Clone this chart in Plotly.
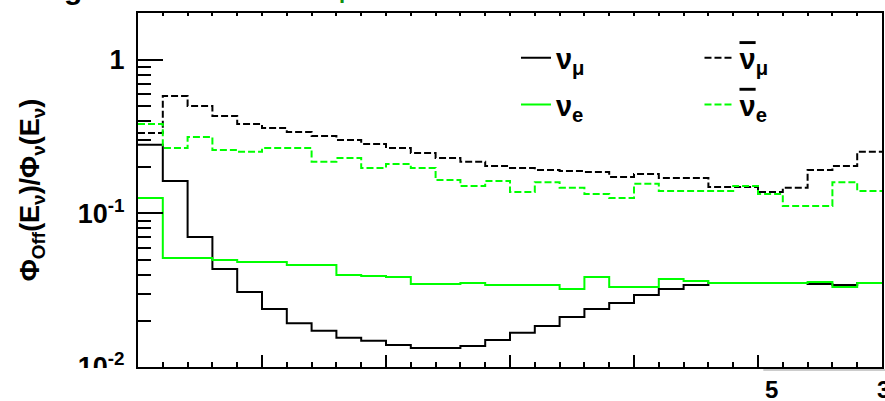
import numpy as np
import plotly.graph_objects as go

# Energy binning: 30 bins of 0.2 GeV between 0 and 6 GeV
bin_width = 0.2
low_edges = [round(i * bin_width, 1) for i in range(30)]

# Off-axis / on-axis flux ratio per bin
ratio_numu = [0.280, 0.163, 0.0703, 0.0435, 0.0308, 0.0239, 0.0193, 0.0172, 0.0155, 0.0148,
              0.0139, 0.0133, 0.0133, 0.0137, 0.0150, 0.0167, 0.0185, 0.0212, 0.0239, 0.0261,
              0.0294, 0.0322, 0.0342, 0.0353, 0.0353, 0.0353, 0.0353, 0.0347, 0.0342, 0.0353]
ratio_nue = [0.126, 0.0513, 0.0513, 0.0498, 0.0483, 0.0483, 0.0462, 0.0462, 0.0398, 0.0392,
             0.0386, 0.0347, 0.0347, 0.0353, 0.0342, 0.0342, 0.0342, 0.0322, 0.0386, 0.0332,
             0.0332, 0.0375, 0.0363, 0.0353, 0.0353, 0.0353, 0.0353, 0.0358, 0.0332, 0.0353]
ratio_numubar = [0.335, 0.583, 0.502, 0.432, 0.383, 0.361, 0.340, 0.320, 0.301, 0.284,
                 0.267, 0.248, 0.230, 0.217, 0.204, 0.198, 0.192, 0.189, 0.186, 0.173,
                 0.181, 0.170, 0.170, 0.149, 0.149, 0.138, 0.147, 0.192, 0.204, 0.252]
ratio_nuebar = [0.383, 0.267, 0.315, 0.259, 0.252, 0.267, 0.267, 0.217, 0.230, 0.198,
                0.210, 0.198, 0.165, 0.151, 0.163, 0.138, 0.160, 0.147, 0.134, 0.126,
                0.156, 0.140, 0.140, 0.140, 0.151, 0.134, 0.112, 0.112, 0.160, 0.140]

y_tick_vals = [0.01, 0.1, 1]
y_tick_text = ["10<sup>-2</sup>", "10<sup>-1</sup>", "1"]
y_minor_vals = [m * 10.0 ** d for d in (-2, -1) for m in range(2, 10)] + [2.0]

GREEN = "#00ff00"
FONT = "Liberation Sans, Arial, Helvetica, sans-serif"
NUBAR = "<span style='text-decoration:overline'>ν</span>"

series = [
    ("ν<sub>μ</sub>", ratio_numu, "black", "solid", "legend", "g1"),
    (NUBAR + "<sub>μ</sub>", ratio_numubar, "black", "7px,3px", "legend2", "g2"),
    ("ν<sub>e</sub>", ratio_nue, GREEN, "solid", "legend", "g3"),
    (NUBAR + "<sub>e</sub>", ratio_nuebar, GREEN, "7px,3px", "legend2", "g4"),
]

fig = go.Figure()
edges_all = low_edges + [round(low_edges[-1] + bin_width, 1)]
for name, vals, color, dash, leg, grp in series:
    fig.add_trace(go.Scatter(
        x=edges_all, y=list(vals) + [vals[-1]],
        mode="lines", line=dict(color=color, width=2, dash=dash, shape="hv"),
        name=name, legend=leg, legendgroup=grp, hoverinfo="skip",
    ))

# empty trace to carry the top tick axis
fig.add_trace(go.Scatter(x=[], y=[], xaxis="x2", showlegend=False, hoverinfo="skip"))

legend_font = dict(size=29, family=FONT, weight="bold")

fig.update_layout(
    width=885, height=401,
    margin=dict(l=138, r=1, t=13, b=34),
    paper_bgcolor="white", plot_bgcolor="white",
    font=dict(family=FONT, color="black"),
    xaxis=dict(
        range=[0, 6], showgrid=False, zeroline=False,
        showline=True, mirror=True, linecolor="black", linewidth=2,
        ticks="inside", dtick=1, tick0=0, ticklen=12, tickwidth=1.5, tickcolor="black",
        minor=dict(dtick=0.2, tick0=0, ticks="inside", ticklen=5, tickwidth=1.5, tickcolor="black"),
        showticklabels=False,
    ),
    xaxis2=dict(
        range=[0, 6], overlaying="x", side="top", showgrid=False, zeroline=False,
        showline=False, ticks="inside", dtick=0.2, tick0=0, ticklen=3, tickwidth=1.5,
        tickcolor="black", showticklabels=False,
    ),
    yaxis=dict(
        type="log", range=[-2, 0.306], showgrid=False, zeroline=False,
        showline=True, mirror=True, linecolor="black", linewidth=2,
        ticks="inside", tickvals=y_tick_vals, ticktext=y_tick_text,
        ticklen=25, tickwidth=1.5, tickcolor="black",
        minor=dict(tickvals=y_minor_vals, ticks="inside", ticklen=13, tickwidth=1.5, tickcolor="black"),
        tickfont=dict(size=27, family=FONT, weight="bold"),
        ticklabelstandoff=6,
        title=dict(text="Φ<sub>Off</sub>(E<sub>ν</sub>)/Φ<sub>ν</sub>(E<sub>ν</sub>)",
                   font=dict(size=27, family=FONT, weight="bold"), standoff=30),
    ),
    legend=dict(x=(517 - 138) / 746, y=0.945, xanchor="left", yanchor="top",
                bgcolor="rgba(0,0,0,0)", font=legend_font, tracegroupgap=6, itemwidth=30),
    legend2=dict(x=(701 - 138) / 746, y=0.945, xanchor="left", yanchor="top",
                 bgcolor="rgba(0,0,0,0)", font=legend_font, tracegroupgap=6, itemwidth=30),
    showlegend=True,
)

# strip below the frame that hides the lower labels, with its grey edge
fig.add_shape(type="rect", xref="paper", yref="paper", x0=-0.2, x1=-0.004,
              y0=-0.12, y1=-0.003, fillcolor="white", line=dict(width=0), layer="above")
fig.add_shape(type="line", xref="paper", yref="paper", x0=(765 - 138) / 746, x1=1.01,
              y0=-3 / 354, y1=-3 / 354, line=dict(color="#cccccc", width=2), layer="above")

fig.add_annotation(text="<b>5</b>", xref="paper", yref="paper", x=(773 - 138) / 746,
                   y=-23 / 354, showarrow=False, font=dict(size=24, family=FONT),
                   xanchor="center", yanchor="middle")
fig.add_annotation(text="<b>3</b>", xref="paper", yref="paper", x=(877 - 138) / 746,
                   y=-23 / 354, showarrow=False, font=dict(size=24, family=FONT),
                   xanchor="left", yanchor="middle")

# descenders of the heading line above the frame
fig.add_annotation(text="<b>g</b>", xref="paper", yref="paper", x=(73 - 138) / 746,
                   y=1 + 6 / 354, showarrow=False, font=dict(size=30, family=FONT),
                   xanchor="center", yanchor="bottom")
fig.add_annotation(text="<b>p</b>", xref="paper", yref="paper", x=(346 - 138) / 746,
                   y=1 + 8 / 354, showarrow=False, font=dict(size=22, family=FONT, color="#109010"),
                   xanchor="center", yanchor="bottom")

fig.write_html("out.html")
